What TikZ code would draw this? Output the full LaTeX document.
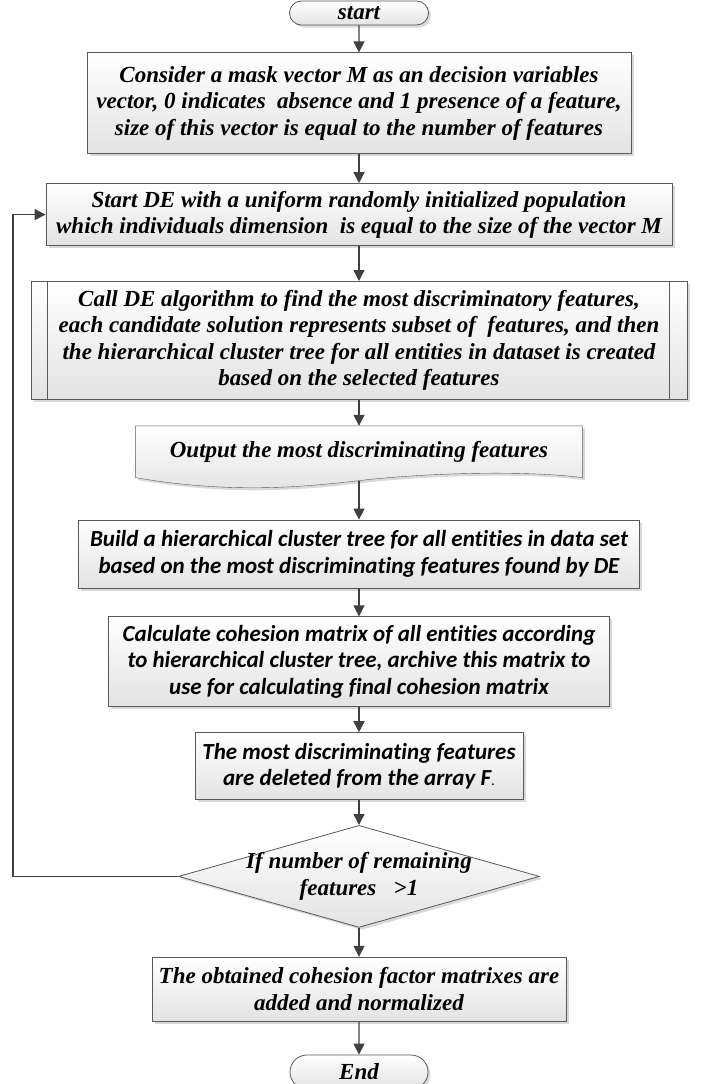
\documentclass[tikz,border=0pt]{standalone}
\usepackage{fontspec}
\setmainfont{Liberation Serif}
\newfontfamily\calfont[Ligatures=NoCommon]{Carlito}
\usetikzlibrary{positioning,shapes.geometric,shapes.misc,arrows.meta,shadows,calc,backgrounds}

\begin{document}
\begin{tikzpicture}[line width=0.8pt,
  txt/.style = {font=\fontsize{23}{26.5}\selectfont\bfseries\itshape},
  cal/.style = {font=\calfont\fontsize{23}{26.5}\selectfont\bfseries\itshape},
  shade/.style = {top color=white, bottom color=black!11,
    drop shadow={opacity=0.3, shadow xshift=2.5pt, shadow yshift=-2.5pt}},
  box/.style = {draw=black!65, shade, txt, align=center, inner sep=0pt},
  term/.style = {box, rounded rectangle},
  arrow/.style = {-{Triangle[length=11pt,width=11pt]}, draw=black!75, line width=1.4pt}]
  \useasboundingbox (0,0) rectangle (706pt,-1084pt);

  \node[term, minimum width=139pt, minimum height=24pt] (start) at (359pt,-13pt) {start};
  \node[box, minimum width=544pt, minimum height=101pt] (mask) [below=27pt of start]
    {Consider a mask vector M as an decision variables\\
     vector, 0 indicates\ \ absence and 1 presence of a feature,\\
     size of this vector is equal to the number of features};
  \node[box, minimum width=626pt, minimum height=62pt] (init) [below=29pt of mask]
    {Start DE with a uniform randomly initialized population\\
     which individuals dimension\ \ is equal to the size of the vector M};
  \node[box, minimum width=656pt, minimum height=118pt] (call) [below=35pt of init]
    {Call DE algorithm to find the most discriminatory features,\\
     each candidate solution represents subset of\ \ features, and then\\
     the hierarchical cluster tree for all entities in dataset is created\\
     based on the selected features};
  \node[txt, align=center, inner sep=0pt, minimum width=446pt, minimum height=51pt] (out) [below=26pt of call]
    {Output the most discriminating features};
  \node[box, cal, minimum width=561pt, minimum height=68pt] (build) [below=42pt of out]
    {Build a hierarchical cluster tree for all entities in data set\\
     based on the most discriminating features found by DE};
  \node[box, cal, minimum width=501pt, minimum height=90pt] (cohes) [below=28pt of build]
    {Calculate cohesion matrix of all entities according\\
     to hierarchical cluster tree, archive this matrix to\\
     use for calculating final cohesion matrix};
  \node[box, cal, minimum width=328pt, minimum height=67pt] (del) [below=25pt of cohes]
    {The most discriminating features\\
     are deleted from the array F{\mdseries\upshape\fontsize{15}{15}\selectfont.}};
  \node[draw=black!65, shade, diamond, inner sep=0pt, minimum width=361pt, minimum height=102pt] (cond) [below=25pt of del] {};
  \node[txt, align=center] (condtxt) at (cond) {If number of remaining\\ features\ \ \ >1};
  \node[box, minimum width=414pt, minimum height=64pt] (sum) [below=29pt of cond]
    {The obtained cohesion factor matrixes are\\ added and normalized};
  \node[term, minimum width=138pt, minimum height=34pt] (end) [below=33pt of sum] {End};

  % document shape behind the output text
  \begin{scope}[on background layer]
    \path[draw=black!65, shade] (out.north west) -- (out.north east) -- (out.south east)
      .. controls ($(out.south east)+(-63pt,8pt)$) and ($(out.south east)+(-163pt,4pt)$) .. ($(out.south)+(0,-3pt)$)
      .. controls ($(out.south)+(-60pt,-10pt)$) and ($(out.south west)+(93pt,-16pt)$) .. (out.south west) -- cycle;
  \end{scope}
  % predefined process side bars
  \draw[draw=black!65] ($(call.north west)+(17pt,0)$) -- ($(call.south west)+(17pt,0)$);
  \draw[draw=black!65] ($(call.north east)+(-18pt,0)$) -- ($(call.south east)+(-18pt,0)$);

  \coordinate (outwave) at ($(out.south)+(0,-3pt)$);
  \coordinate (loopx) at (13pt,0);

  \draw[arrow] (start) -- (mask);
  \draw[arrow] (mask) -- (init);
  \draw[arrow] (init) -- (call);
  \draw[arrow] (call) -- (out);
  \draw[arrow] (outwave) -- (build);
  \draw[arrow] (build) -- (cohes);
  \draw[arrow] (cohes) -- (del);
  \draw[arrow] (del) -- (cond);
  \draw[arrow] (cond) -- (sum);
  \draw[arrow] (sum) -- (end);
  \draw[arrow] (cond.west) -- (cond.west -| loopx) |- (init.west);
\end{tikzpicture}
\end{document}
